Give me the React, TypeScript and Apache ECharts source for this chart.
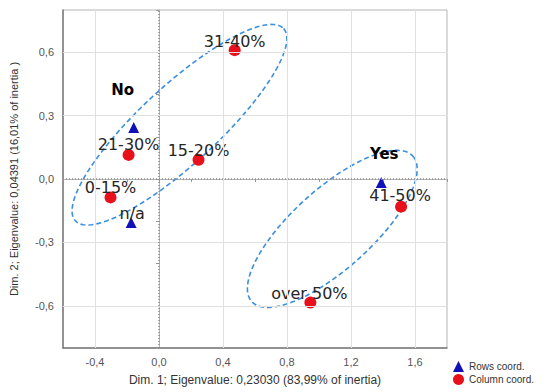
import React, { useEffect, useRef } from "react";
import * as echarts from "echarts";

// Column coordinates (red circles)
const columnNames = ["31-40%", "21-30%", "15-20%", "0-15%", "41-50%", "over 50%"];
const columnX = [0.473, -0.19, 0.247, -0.303, 1.513, 0.946];
const columnY = [0.61, 0.114, 0.091, -0.087, -0.131, -0.585];

// Row coordinates (blue triangles)
const rowNames = ["No", "n/a", "Yes"];
const rowX = [-0.158, -0.174, 1.389];
const rowY = [0.244, -0.206, -0.016];

// tick labels
const xTickLabels = [-0.4, 0, 0.4, 0.8, 1.2, 1.6];
const yTickLabels = [-0.6, -0.3, 0, 0.3, 0.6];

// grouping ellipses (data units): centre, half major axis vector, half minor axis vector
const ellipseCenters = [[0.128, 0.257], [1.083, -0.236]];
const ellipseMajor = [[0.651, 0.455], [0.504, 0.344]];
const ellipseMinor = [[0.164, -0.136], [0.166, -0.141]];

// label placement (style, pixels)
const labelOffsets: Record<string, number[]> = {
  "31-40%": [0, -9],
  "21-30%": [0, -10],
  "15-20%": [0, -9],
  "0-15%": [0, -10],
  "41-50%": [-1, -11],
  "over 50%": [-1, -9],
  No: [-11, -37],
  "n/a": [1, -9],
  Yes: [3, -28],
};
const boldLabels = ["No", "Yes"];

const fmt = (v: number) => (Math.abs(v) < 1e-9 ? 0 : v).toFixed(1).replace(".", ",");
const isIn = (arr: number[], v: number) => arr.some((a) => Math.abs(a - v) < 1e-6);

export default function App() {
  const ref = useRef<HTMLDivElement>(null);
  useEffect(() => {
    document.body.style.margin = "0";
    const chart = echarts.init(ref.current!, null, { renderer: "svg" });
    const font = "'Liberation Sans', Arial, sans-serif";
    const labelFont = "'DejaVu Sans', sans-serif";

    const mkItem = (name: string, x: number, y: number) => ({
      name,
      value: [x, y],
      label: {
        show: true,
        position: "inside",
        offset: labelOffsets[name] || [0, -10],
        formatter: "{b}",
        fontFamily: labelFont,
        fontSize: boldLabels.includes(name) ? 15 : 16,
        fontWeight: boldLabels.includes(name) ? "bold" : "normal",
        color: boldLabels.includes(name) ? "#000" : "#262626",
      },
    });

    const columnData = columnNames.map((n, i) => mkItem(n, columnX[i], columnY[i]));
    const rowData = rowNames.map((n, i) => mkItem(n, rowX[i], rowY[i]));

    const ellipseData = ellipseCenters.map((c, i) => [
      c[0], c[1], ellipseMajor[i][0], ellipseMajor[i][1], ellipseMinor[i][0], ellipseMinor[i][1],
    ]);

    const option: any = {
      animation: false,
      grid: {
        left: 61,
        top: 10,
        width: 386,
        height: 338,
        show: true,
        borderColor: "#b5b5b5",
        borderWidth: 1,
        backgroundColor: "#fff",
      },
      legend: {
        orient: "vertical",
        left: 453,
        top: 361,
        padding: 0,
        itemWidth: 11,
        itemHeight: 11,
        itemGap: 2,
        textStyle: { fontFamily: font, fontSize: 10, color: "#333" },
        data: [
          { name: "Rows coord.", icon: "triangle" },
          { name: "Column coord.", icon: "circle" },
        ],
      },
      xAxis: [
        {
          type: "value",
          min: -0.6,
          max: 1.8,
          interval: 0.2,
          position: "bottom",
          name: "Dim. 1; Eigenvalue: 0,23030 (83,99% of inertia)",
          nameLocation: "middle",
          nameGap: 26,
          nameTextStyle: { fontFamily: font, fontSize: 12, color: "#333" },
          axisLine: { show: true, onZero: false, lineStyle: { color: "#7a7a7a", width: 1.5 } },
          axisTick: { show: false },
          splitLine: { show: false },
          axisLabel: {
            margin: 8,
            fontFamily: font,
            fontSize: 11,
            color: "#555",
            formatter: (v: number) => (isIn(xTickLabels, v) ? fmt(v) : ""),
          },
        },
        {
          type: "value",
          min: -0.6,
          max: 1.8,
          interval: 0.2,
          position: "top",
          axisLine: { show: true, lineStyle: { color: "#b5b5b5" } },
          axisTick: { show: true, inside: true, length: 3, lineStyle: { color: "#999" } },
          axisLabel: { show: false },
          splitLine: { show: false },
        },
      ],
      yAxis: [
        {
          type: "value",
          min: -0.8,
          max: 0.8,
          interval: 0.1,
          position: "left",
          name: "Dim. 2; Eigenvalue: 0,04391 (16,01% of inertia )",
          nameLocation: "middle",
          nameGap: 44,
          nameTextStyle: { fontFamily: font, fontSize: 11, color: "#333" },
          axisLine: { show: true, onZero: false, lineStyle: { color: "#7a7a7a", width: 1.5 } },
          axisTick: { show: false },
          splitLine: { show: false },
          axisLabel: {
            margin: 9,
            fontFamily: font,
            fontSize: 11,
            color: "#555",
            formatter: (v: number) => (isIn(yTickLabels, v) ? fmt(v) : ""),
          },
        },
        {
          type: "value",
          min: -0.8,
          max: 0.8,
          interval: 0.2,
          position: "right",
          axisLine: { show: true, lineStyle: { color: "#b5b5b5" } },
          axisTick: { show: true, inside: true, length: 3, lineStyle: { color: "#999" } },
          axisLabel: { show: false },
          splitLine: { show: false },
        },
      ],
      series: [
        {
          type: "scatter",
          name: "grid",
          data: [],
          silent: true,
          z: 0,
          markLine: {
            silent: true,
            symbol: "none",
            label: { show: false },
            animation: false,
            data: [
              ...xTickLabels
                .filter((v) => v !== 0)
                .map((v) => ({ xAxis: v, lineStyle: { color: "#e0e0e0", width: 1, type: "solid" } })),
              ...yTickLabels
                .filter((v) => v !== 0)
                .map((v) => ({ yAxis: v, lineStyle: { color: "#e0e0e0", width: 1, type: "solid" } })),
              { xAxis: 0, lineStyle: { color: "#8c8c8c", width: 1.5, type: [1, 2] } },
              { yAxis: 0, lineStyle: { color: "#8c8c8c", width: 1.5, type: [1, 2] } },
            ],
          },
        },
        {
          type: "custom",
          name: "ellipses",
          silent: true,
          z: 1,
          dimensions: ["cx", "cy", "ux", "uy", "vx", "vy"],
          encode: { x: 0, y: 1 },
          data: ellipseData,
          renderItem: (params: any, api: any) => {
            const cx = api.value(0), cy = api.value(1);
            const ux = api.value(2), uy = api.value(3);
            const vx = api.value(4), vy = api.value(5);
            const pts: number[][] = [];
            const n = 120;
            for (let k = 0; k < n; k++) {
              const t = (k / n) * Math.PI * 2;
              pts.push(
                api.coord([
                  cx + ux * Math.cos(t) + vx * Math.sin(t),
                  cy + uy * Math.cos(t) + vy * Math.sin(t),
                ])
              );
            }
            return {
              type: "polygon",
              shape: { points: pts },
              style: { fill: "none", stroke: "#3b8fde", lineWidth: 1.6, lineDash: [5, 3] },
            };
          },
        },
        {
          type: "scatter",
          name: "Column coord.",
          symbol: "circle",
          symbolSize: 12,
          z: 3,
          itemStyle: { color: "#e8101a", opacity: 1 },
          data: columnData,
        },
        {
          type: "scatter",
          name: "Rows coord.",
          symbol: "triangle",
          symbolSize: 11,
          z: 3,
          itemStyle: { color: "#1010b8", opacity: 1 },
          data: rowData,
        },
      ],
    };
    chart.setOption(option);
    return () => chart.dispose();
  }, []);
  return (
    <div
      ref={ref}
      style={{ position: "absolute", left: 0, top: 0, width: 550, height: 392, background: "#fff" }}
    />
  );
}
